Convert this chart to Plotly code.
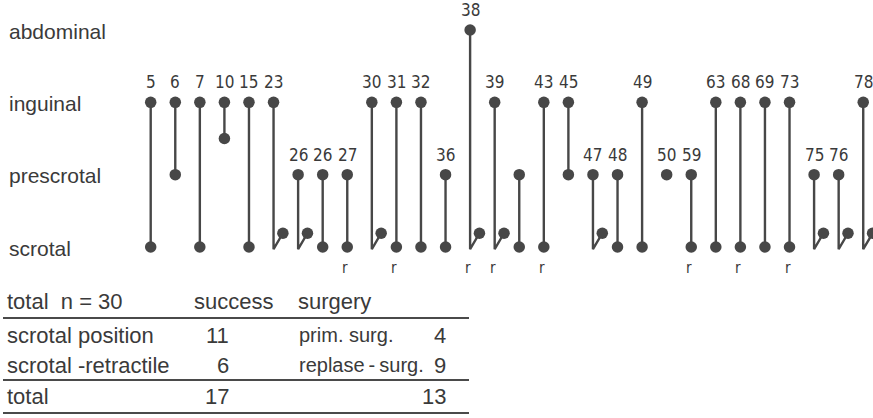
import plotly.graph_objects as go

# ---------------- data ----------------
levels = ["abdominal", "inguinal", "prescrotal", "scrotal"]
level_values = [4, 3, 2, 1]

case_labels = ["5", "6", "7", "10", "15", "23", "26", "26", "27", "30",
               "31", "32", "36", "38", "39", "", "43", "45", "47", "48",
               "49", "50", "59", "63", "68", "69", "73", "75", "76", "78"]
start_level = [3, 3, 3, 3, 3, 3, 2, 2, 2, 3,
               3, 3, 2, 4, 3, 2, 3, 3, 2, 2,
               3, 2, 2, 3, 3, 3, 3, 2, 2, 3]
end_level = [1, 2, 1, 2.5, 1, 1, 1, 1, 1, 1,
             1, 1, 1, 1, 1, 1, 1, 2, 1, 1,
             1, 2, 1, 1, 1, 1, 1, 1, 1, 1]
retractile = [0, 0, 0, 0, 0, 1, 1, 0, 0, 1,
              0, 0, 0, 1, 1, 0, 0, 0, 1, 0,
              0, 0, 0, 0, 0, 0, 0, 1, 1, 1]
relapse = [0, 0, 0, 0, 0, 0, 0, 0, 1, 0,
           1, 0, 0, 1, 1, 0, 1, 0, 0, 0,
           0, 0, 1, 0, 1, 0, 1, 0, 0, 0]

table_header = ["total  n = 30", "success", "surgery"]
table_rows = ["scrotal position", "scrotal -retractile"]
success_counts = [11, 6]
surgery_rows = ["prim. surg.", "replase\u2009-\u2009surg."]
surgery_counts = [4, 9]
total_row = "total"
success_total = 17
surgery_total = 13

# ---------------- style ----------------
W, H = 873, 418
X0, DX = 150.7, 24.57          # pixel of first column, pixels per column
Y1, DY = 247.0, 72.33          # pixel of scrotal level, pixels per level
INK = "#474747"
TXT = "#3a3a3a"
HOOK_DX, HOOK_DROP, HOOK_RISE = 0.38, 0.03, 0.19
LABEL_FONT = "Liberation Sans, Arial, sans-serif"
NUM_FONT = "Liberation Sans Narrow, DejaVu Sans Condensed, Arial Narrow, sans-serif"

def px(xp):
    return xp / W

def py(yp):
    return 1 - yp / H

fig = go.Figure()

# stems
lx, ly = [], []
dot_x, dot_y = [], []
n = len(case_labels)
for i in range(n):
    s, e = start_level[i], end_level[i]
    dot_x.append(i); dot_y.append(s)
    if retractile[i]:
        lx += [i, i, i + HOOK_DX, None]
        ly += [s, e - HOOK_DROP, e + HOOK_RISE, None]
        dot_x.append(i + HOOK_DX); dot_y.append(e + HOOK_RISE)
    elif e != s:
        lx += [i, i, None]
        ly += [s, e, None]
        dot_x.append(i); dot_y.append(e)

fig.add_trace(go.Scatter(x=lx, y=ly, mode="lines",
                         line=dict(color=INK, width=2.4), hoverinfo="skip",
                         showlegend=False))
fig.add_trace(go.Scatter(x=dot_x, y=dot_y, mode="markers",
                         marker=dict(color=INK, size=11.5), hoverinfo="skip",
                         showlegend=False))

annotations = []
# case numbers
for i in range(n):
    if case_labels[i]:
        annotations.append(dict(x=i, y=start_level[i], xref="x", yref="y",
                                text=case_labels[i], showarrow=False,
                                yshift=20, font=dict(family=NUM_FONT, size=17, color=TXT)))
    if relapse[i]:
        annotations.append(dict(x=i, y=1, xref="x", yref="y", text="r",
                                showarrow=False, yshift=-21, xshift=-2,
                                font=dict(family=NUM_FONT, size=15, color=TXT)))

# level labels
for name, lv in zip(levels, level_values):
    annotations.append(dict(x=px(7), y=lv, xref="paper", yref="y", text=name,
                            xanchor="left", showarrow=False, yshift=-1,
                            font=dict(family=LABEL_FONT, size=21, color=TXT)))

# table
TF = dict(family=LABEL_FONT, size=22, color=TXT)
TF2 = dict(family=LABEL_FONT, size=20, color=TXT)
row_y = [301, 335, 365, 396]
def tx(x, y, t, anchor="left", font=TF):
    annotations.append(dict(x=px(x), y=py(y), xref="paper", yref="paper",
                            text=t, xanchor=anchor, yanchor="middle",
                            showarrow=False, font=font))

tx(5, row_y[0], table_header[0])
tx(192, row_y[0], table_header[1])
tx(296, row_y[0], table_header[2])
for k in range(2):
    tx(5, row_y[k + 1], table_rows[k])
    tx(231, row_y[k + 1], str(success_counts[k]), "right")
    tx(297, row_y[k + 1], surgery_rows[k], font=TF2)
    tx(448, row_y[k + 1], str(surgery_counts[k]), "right")
tx(5, row_y[3], total_row)
tx(231, row_y[3], str(success_total), "right")
tx(448, row_y[3], str(surgery_total), "right")

shapes = []
for yl in [318, 380, 413]:
    shapes.append(dict(type="line", xref="paper", yref="paper",
                       x0=px(3), x1=px(469), y0=py(yl), y1=py(yl),
                       line=dict(color="#4a4a4a", width=2)))

fig.update_layout(
    width=W, height=H, autosize=False,
    margin=dict(l=0, r=0, t=0, b=0),
    paper_bgcolor="white", plot_bgcolor="white",
    xaxis=dict(range=[-X0 / DX, (W - X0) / DX], visible=False, fixedrange=True),
    yaxis=dict(range=[1 - (H - Y1) / DY, 1 + Y1 / DY], visible=False, fixedrange=True),
    annotations=annotations, shapes=shapes,
)

fig.write_html("out.html")
